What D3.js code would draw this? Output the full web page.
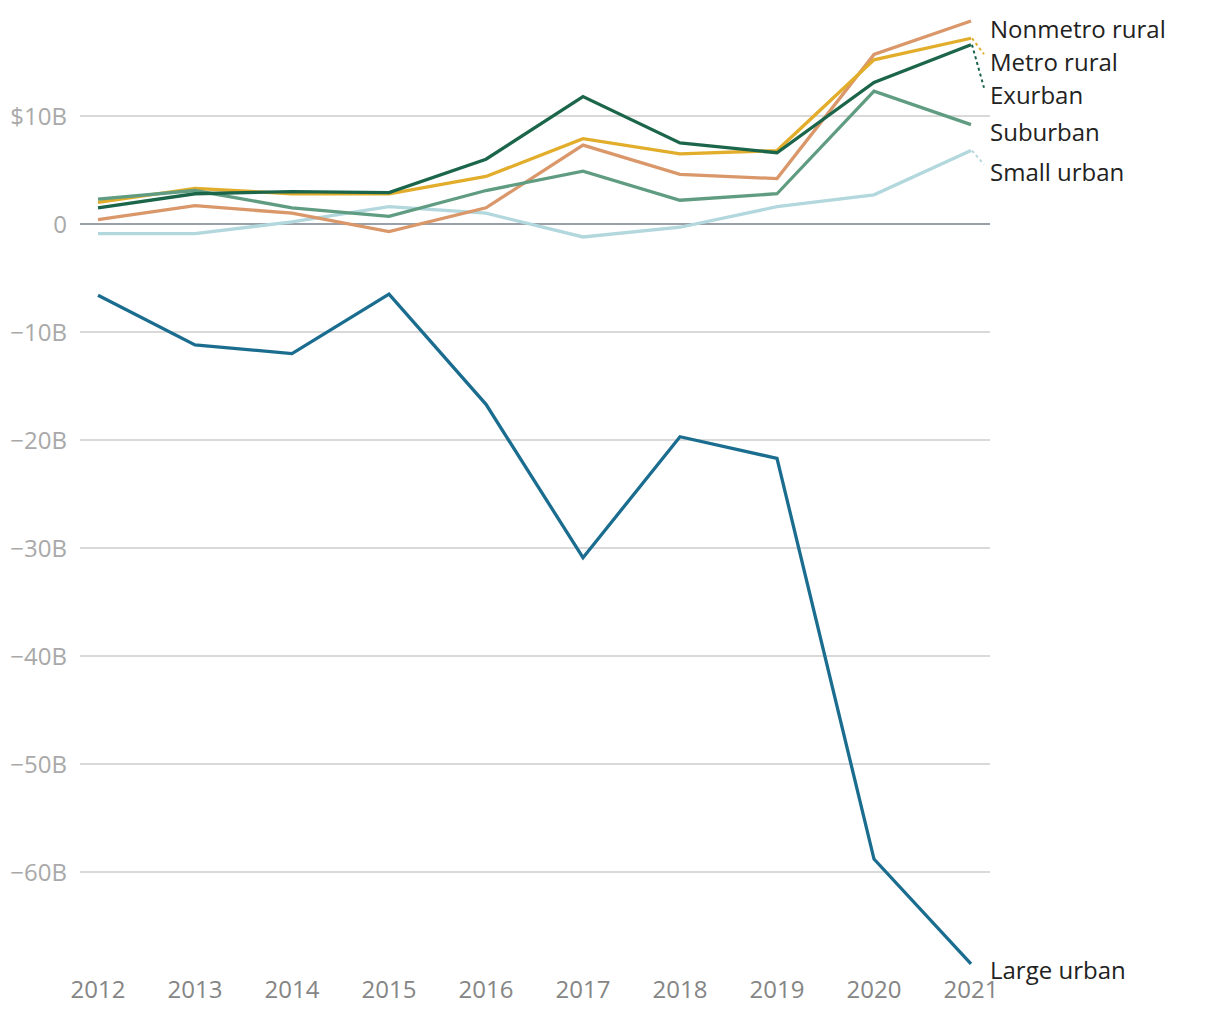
<!DOCTYPE html>
<html><head><meta charset="utf-8">
<script src="https://cdn.jsdelivr.net/npm/d3@7"></script>
<style>
html,body{margin:0;padding:0;background:#fff;}
svg{display:block;font-family:"Open Sans",sans-serif;}
</style></head>
<body><svg id="c" width="1220" height="1020"></svg>
<script>
const years = [2012,2013,2014,2015,2016,2017,2018,2019,2020,2021];
const seriesNames = ["Small urban","Nonmetro rural","Metro rural","Suburban","Exurban","Large urban"];
const smallUrban   = [-0.9,-0.9,0.2,1.6,1.0,-1.2,-0.3,1.6,2.7,6.8];
const nonmetroRural= [0.4,1.7,1.0,-0.7,1.5,7.3,4.6,4.2,15.7,18.8];
const metroRural   = [2.0,3.3,2.8,2.8,4.4,7.9,6.5,6.8,15.2,17.2];
const suburban     = [2.3,3.1,1.5,0.7,3.1,4.9,2.2,2.8,12.3,9.2];
const exurban      = [1.5,2.8,3.0,2.9,6.0,11.8,7.5,6.6,13.1,16.6];
const largeUrban   = [-6.6,-11.2,-12.0,-6.5,-16.7,-30.9,-19.7,-21.7,-58.8,-68.5];
const yTicks = [10,0,-10,-20,-30,-40,-50,-60];
const yTickLabels = ["$10B","0","\u221210B","\u221220B","\u221230B","\u221240B","\u221250B","\u221260B"];

const values = [smallUrban,nonmetroRural,metroRural,suburban,exurban,largeUrban];
const colors = ["#b2d7dd","#d9976a","#e2ad2a","#5f9c81","#1b664a","#1b6d90"];
// label vertical nudges (px) relative to the line end
const labelNudge = [22,9,24,8,51,7];

const svg = d3.select("#c");
const x = d3.scaleLinear().domain([2012,2021]).range([98,971]);
const y = d3.scaleLinear().domain([0,10]).range([224,116]);

svg.append("g").selectAll("line").data(yTicks).join("line")
  .attr("x1",80).attr("x2",990)
  .attr("y1",d=>y(d)).attr("y2",d=>y(d))
  .attr("stroke",d=>d===0?"#77808a":"#cccccc")
  .attr("stroke-width",d=>d===0?1.6:1.3);

svg.append("g").selectAll("text").data(yTicks).join("text")
  .attr("x",67).attr("y",d=>y(d)+8.5)
  .attr("text-anchor","end")
  .attr("fill","#a9a9a9").attr("font-size","24px")
  .text((d,i)=>yTickLabels[i]);

svg.append("g").selectAll("text").data(years).join("text")
  .attr("x",d=>x(d)).attr("y",998)
  .attr("text-anchor","middle")
  .attr("fill","#858585").attr("font-size","24px")
  .text(d=>d);

const line = d3.line().x((d,i)=>x(years[i])).y(d=>y(d));

values.forEach((vals,k)=>{
  svg.append("path").datum(vals)
    .attr("d",line).attr("fill","none")
    .attr("stroke",colors[k]).attr("stroke-width",3.3)
    .attr("stroke-linejoin","miter");
});

values.forEach((vals,k)=>{
  const last = vals[vals.length-1];
  const ey = y(last);
  const ly = ey + labelNudge[k];
  if (labelNudge[k] > 15) {
    svg.append("line")
      .attr("x1",x(2021)+1).attr("y1",ey)
      .attr("x2",984).attr("y2",ly-8)
      .attr("stroke",colors[k]).attr("stroke-width",2)
      .attr("stroke-dasharray","3,3");
  }
  svg.append("text")
    .attr("x",990).attr("y",ly+8.5)
    .attr("fill","#222").attr("font-size","24px")
    .text(seriesNames[k]);
});
</script></body></html>
